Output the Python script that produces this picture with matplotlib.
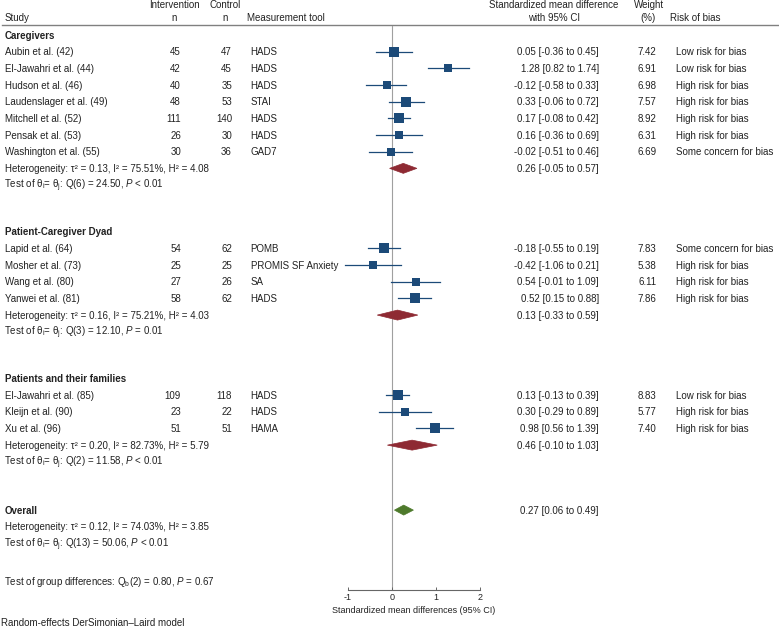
import matplotlib
matplotlib.use("Agg")
import matplotlib.pyplot as plt
from matplotlib.patches import Polygon

plt.rcParams['font.family'] = ['Liberation Sans', 'DejaVu Sans']
plt.rcParams['mathtext.fontset'] = 'custom'
plt.rcParams['mathtext.rm'] = 'Liberation Sans'
plt.rcParams['mathtext.it'] = 'Liberation Sans:italic'
plt.rcParams['mathtext.bf'] = 'Liberation Sans:bold'
plt.rcParams['axes.unicode_minus'] = False

# ---------------- data ----------------
group_names = ["Caregivers", "Patient-Caregiver Dyad", "Patients and their families"]

cg_study = ["Aubin et al. (42)", "El-Jawahri et al. (44)", "Hudson et al. (46)", "Laudenslager et al. (49)",
            "Mitchell et al. (52)", "Pensak et al. (53)", "Washington et al. (55)"]
cg_nint = [45, 42, 40, 48, 111, 26, 30]
cg_nctl = [47, 45, 35, 53, 140, 30, 36]
cg_tool = ["HADS", "HADS", "HADS", "STAI", "HADS", "HADS", "GAD7"]
cg_smd = [0.05, 1.28, -0.12, 0.33, 0.17, 0.16, -0.02]
cg_lo = [-0.36, 0.82, -0.58, -0.06, -0.08, -0.36, -0.51]
cg_hi = [0.45, 1.74, 0.33, 0.72, 0.42, 0.69, 0.46]
cg_w = [7.42, 6.91, 6.98, 7.57, 8.92, 6.31, 6.69]
cg_rob = ["Low risk for bias", "Low risk for bias", "High risk for bias", "High risk for bias",
          "High risk for bias", "High risk for bias", "Some concern for bias"]

dy_study = ["Lapid et al. (64)", "Mosher et al. (73)", "Wang et al. (80)", "Yanwei et al. (81)"]
dy_nint = [54, 25, 27, 58]
dy_nctl = [62, 25, 26, 62]
dy_tool = ["POMB", "PROMIS SF Anxiety", "SA", "HADS"]
dy_smd = [-0.18, -0.42, 0.54, 0.52]
dy_lo = [-0.55, -1.06, -0.01, 0.15]
dy_hi = [0.19, 0.21, 1.09, 0.88]
dy_w = [7.83, 5.38, 6.11, 7.86]
dy_rob = ["Some concern for bias", "High risk for bias", "High risk for bias", "High risk for bias"]

pf_study = ["El-Jawahri et al. (85)", "Kleijn et al. (90)", "Xu et al. (96)"]
pf_nint = [109, 23, 51]
pf_nctl = [118, 22, 51]
pf_tool = ["HADS", "HADS", "HAMA"]
pf_smd = [0.13, 0.30, 0.98]
pf_lo = [-0.13, -0.29, 0.56]
pf_hi = [0.39, 0.89, 1.39]
pf_w = [8.83, 5.77, 7.40]
pf_rob = ["Low risk for bias", "High risk for bias", "High risk for bias"]

sub_smd = [0.26, 0.13, 0.46]
sub_lo = [-0.05, -0.33, -0.10]
sub_hi = [0.57, 0.59, 1.03]
sub_tau2 = ["0.13", "0.16", "0.20"]
sub_i2 = ["75.51", "75.21", "82.73"]
sub_h2 = ["4.08", "4.03", "5.79"]
sub_df = [6, 3, 2]
sub_q = ["24.50", "12.10", "11.58"]
sub_p = ["< 0.01", "= 0.01", "< 0.01"]

overall_smd, overall_lo, overall_hi = 0.27, 0.06, 0.49
overall_tau2, overall_i2, overall_h2 = "0.12", "74.03", "3.85"
overall_df, overall_q, overall_p = 13, "50.06", "< 0.01"
group_qb_df, group_qb, group_p = 2, "0.80", "0.67"

x_ticks = [-1, 0, 1, 2]

groups = [
    (cg_study, cg_nint, cg_nctl, cg_tool, cg_smd, cg_lo, cg_hi, cg_w, cg_rob),
    (dy_study, dy_nint, dy_nctl, dy_tool, dy_smd, dy_lo, dy_hi, dy_w, dy_rob),
    (pf_study, pf_nint, pf_nctl, pf_tool, pf_smd, pf_lo, pf_hi, pf_w, pf_rob),
]

# ---------------- layout (vertical positions in pixels) ----------------
W, H = 779, 629
DPI = 100
Y0 = 35.0        # first group header
RS = 16.67       # px per row
GAP = 46.7       # px from a group's test line to the next header
BASE_OFF = 3.6   # baseline below row centre (px)

fig = plt.figure(figsize=(W / DPI, H / DPI), dpi=DPI)
fig.patch.set_facecolor('white')

tax = fig.add_axes([0, 0, 1, 1])
tax.set_xlim(0, W)
tax.set_ylim(H, 0)
tax.axis('off')

ax_left_px, ax_right_px = 347.7, 480.0
ax_top_px, ax_bot_px = 25.5, 589.8
fax = fig.add_axes([ax_left_px / W, (H - ax_bot_px) / H,
                    (ax_right_px - ax_left_px) / W, (ax_bot_px - ax_top_px) / H])
fax.set_xlim(-1, 2)
fax.set_ylim(ax_bot_px, ax_top_px)
fax.patch.set_alpha(0)
for s in ['top', 'right', 'left']:
    fax.spines[s].set_visible(False)
fax.spines['bottom'].set_color('#666666')
fax.spines['bottom'].set_linewidth(0.8)
fax.set_yticks([])
fax.set_xticks(x_ticks)
fax.set_xticklabels([str(t) for t in x_ticks])
fax.tick_params(axis='x', direction='in', length=2.5, width=0.7, color='#666666',
                labelsize=6.5, pad=2.5, labelcolor='#222222')
fax.set_xlabel("Standardized mean differences (95% CI)", fontsize=6.5, labelpad=2.5, color='#222222')
fax.axvline(0, color='#a0a0a0', lw=0.8, zorder=0)

FS = 7
BLUE = '#1c4a78'
RED = '#8e2a33'
GREEN = '#4e7a2c'

def txt(px, py, s, ha='left', **kw):
    tax.text(px, py + BASE_OFF, s, ha=ha, va='baseline', fontsize=FS, color='#222222', **kw)

# header
txt(174.5, 4.5, "Intervention", ha='center')
txt(174.5, 17.3, "n", ha='center')
txt(225, 4.5, "Control", ha='center')
txt(225, 17.3, "n", ha='center')
txt(4.7, 17.3, "Study")
txt(247.3, 17.3, "Measurement tool")
txt(554, 4.5, "Standardized mean difference", ha='center')
txt(554, 17.3, "with 95% CI", ha='center')
txt(649, 4.5, "Weight", ha='center')
txt(648, 17.3, "(%)", ha='center')
txt(670, 17.3, "Risk of bias")
tax.plot([2, W], [25.3, 25.3], color='#808080', lw=1.0)

def fmt_ci(m, lo, hi):
    return f"{m:.2f} [{lo:.2f} to {hi:.2f}]"

def diamond(m, lo, hi, y, color):
    hh = 5.0
    poly = Polygon([[lo, y], [m, y - hh], [hi, y], [m, y + hh]], closed=True,
                   facecolor=color, edgecolor=color, lw=0.5, clip_on=False, zorder=3)
    fax.add_patch(poly)

def het_text(tau2, i2, h2):
    return f"Heterogeneity: τ² = {tau2}, I² = {i2}%, H² = {h2}"

def test_text(df, q, p):
    return r"Test of θ$_\mathrm{i}$= θ$_\mathrm{j}$: Q(" + f"{df}) = {q}, " + r"$\it{P}$ " + p

MATH_DX = -1.0   # mathtext strings get a small extra left pad

y = Y0
for gi, (st, ni, nc, tool, smd, lo, hi, w, rob) in enumerate(groups):
    txt(4.7, y, group_names[gi], fontweight='bold')
    y += RS
    for k in range(len(st)):
        txt(4.7, y, st[k])
        txt(181, y, str(ni[k]), ha='right')
        txt(232, y, str(nc[k]), ha='right')
        txt(250.7, y, tool[k])
        txt(599, y, fmt_ci(smd[k], lo[k], hi[k]), ha='right')
        txt(656.7, y, f"{w[k]:.2f}", ha='right')
        txt(676, y, rob[k])
        fax.plot([lo[k], hi[k]], [y, y], color=BLUE, lw=0.9, clip_on=False, zorder=2)
        side_px = 3.4 * w[k] ** 0.5
        fax.plot([smd[k]], [y], marker='s', ms=side_px * 0.72, color=BLUE,
                 mec=BLUE, mew=0, clip_on=False, zorder=3, ls='none')
        y += RS
    txt(4.7, y, het_text(sub_tau2[gi], sub_i2[gi], sub_h2[gi]))
    txt(599, y, fmt_ci(sub_smd[gi], sub_lo[gi], sub_hi[gi]), ha='right')
    diamond(sub_smd[gi], sub_lo[gi], sub_hi[gi], y, RED)
    y += RS
    txt(4.7 + MATH_DX, y, test_text(sub_df[gi], sub_q[gi], sub_p[gi]))
    y += GAP

# overall
y += 1.6
txt(4.7, y, "Overall", fontweight='bold')
txt(599, y, fmt_ci(overall_smd, overall_lo, overall_hi), ha='right')
diamond(overall_smd, overall_lo, overall_hi, y, GREEN)
y += RS
txt(4.7, y, het_text(overall_tau2, overall_i2, overall_h2))
y += RS
txt(4.7 + MATH_DX, y, test_text(overall_df, overall_q, overall_p))
y += 38.4

txt(5.2 + MATH_DX, y, r"Test of group differences: Q$_\mathrm{b}$(" + f"{group_qb_df}) = {group_qb}, "
    + r"$\it{P}$ = " + group_p)
txt(1.5, 622.5, "Random-effects DerSimonian–Laird model")

fig.savefig("out.png", dpi=DPI, facecolor='white')
